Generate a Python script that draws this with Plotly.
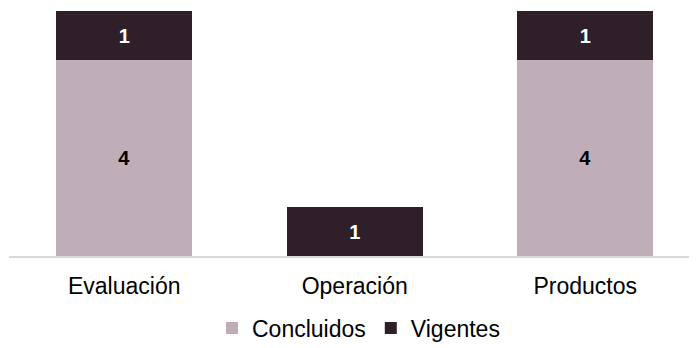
import plotly.graph_objects as go

categorias = ["Evaluación", "Operación", "Productos"]
concluidos = [4, 0, 4]
vigentes = [1, 1, 1]

COL_CONC = "#bfadb8"
COL_VIG = "#2f1f28"
FONT = "Liberation Sans, Arial, sans-serif"


def etiquetas(vals):
    return [str(v) if v else "" for v in vals]


fig = go.Figure()
fig.add_trace(go.Bar(
    x=categorias, y=concluidos, name="Concluidos",
    marker=dict(color=COL_CONC, line=dict(width=0)),
    text=etiquetas(concluidos), textposition="inside",
    insidetextanchor="middle",
    textfont=dict(color="black", size=20, family=FONT, weight="bold"),
))
fig.add_trace(go.Bar(
    x=categorias, y=vigentes, name="Vigentes",
    marker=dict(color=COL_VIG, line=dict(width=0)),
    text=etiquetas(vigentes), textposition="inside",
    insidetextanchor="middle",
    textfont=dict(color="white", size=20, family=FONT, weight="bold"),
))

# the page body adds an 8px margin, so the figure is 8px smaller
fig.update_layout(
    barmode="stack",
    bargap=0.41,
    width=689, height=340,
    margin=dict(l=1, r=0, t=3, b=92, autoexpand=False),
    plot_bgcolor="white", paper_bgcolor="white",
    font=dict(family=FONT, size=23, color="black"),
    uniformtext=dict(mode=False),
    showlegend=True,
    legend=dict(
        orientation="h", x=0.508, xanchor="center",
        yref="container", y=0.059, yanchor="middle",
        font=dict(size=23), itemwidth=30, traceorder="normal",
    ),
)
fig.update_xaxes(
    range=[-0.5, 2.485],
    showline=True, linecolor="#d9d9d9", linewidth=2, automargin=False,
    ticks="", showgrid=False, tickfont=dict(size=23), ticklabelstandoff=8,
)
fig.update_yaxes(
    range=[0, 5], visible=False, showgrid=False, zeroline=False,
)

fig.write_html("out.html")
